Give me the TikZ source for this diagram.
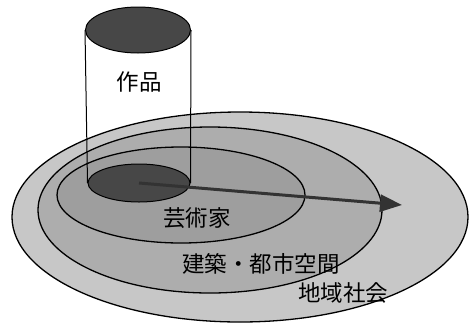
\documentclass[tikz,border=0pt]{standalone}
\usepackage{fontspec}
\newfontfamily\jp{Noto Sans CJK JP}
\usetikzlibrary{shapes.geometric,arrows.meta}
\tikzset{
  ring/.style={ellipse, draw=black, line width=1.3pt, inner sep=0pt},
  lbl/.style={font=\jp\fontsize{22.5}{22.5}\selectfont, inner sep=0pt, text=black},
  side/.style={draw=black, line width=1pt}
}
\begin{document}
\begin{tikzpicture}[x=1pt,y=-1pt]
\useasboundingbox (0,0) rectangle (470,327);
% rings
\node[ring, fill=black!22, minimum width=456pt, minimum height=210pt] (outer) at (240,217) {};
\node[ring, fill=black!32, minimum width=344pt, minimum height=166pt] (middle) at (210,210) {};
\node[ring, fill=black!38, minimum width=248pt, minimum height=96pt] (inner) at (181,195) {};
% cylinder
\node[ring, line width=1pt, fill=black!72, minimum width=105pt, minimum height=46pt] (top) at (138,30) {};
\node[ring, line width=1pt, fill=black!72, minimum width=102pt, minimum height=38pt] (base) at (139,183) {};
\draw[side] (top.west) -- (base.west |- base.center);
\draw[side] (top.east) -- (base.east |- base.center);
% arrow
\coordinate (tip) at (402,205);
\draw[line width=3pt, draw=black!80, -{Triangle[width=17pt,length=22pt]}] (base.center) -- (tip);
% labels
\node[lbl] (work) at (139,82) {作品};
\node[lbl] (artist) at (197,218) {芸術家};
\node[lbl] (arch) at (261,264) {建築・都市空間};
\node[lbl] (region) at (343,293) {地域社会};
\end{tikzpicture}
\end{document}
